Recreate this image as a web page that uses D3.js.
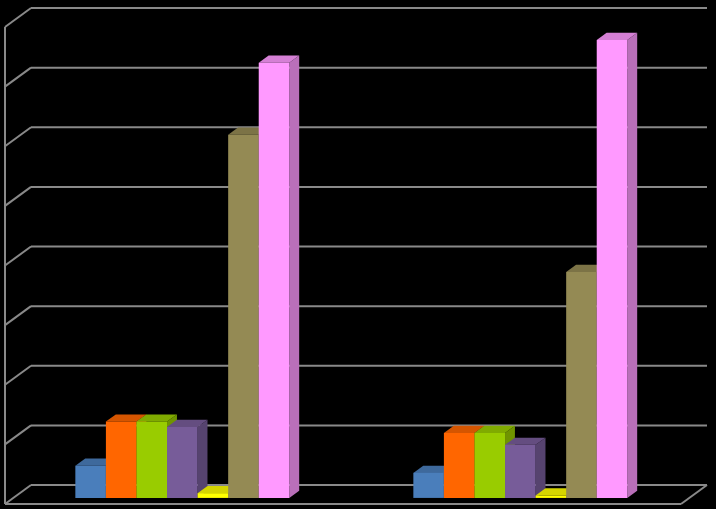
<!DOCTYPE html>
<html>
<head>
<meta charset="utf-8">
<script src="https://cdn.jsdelivr.net/npm/d3@7"></script>
<style>
  html, body { margin: 0; padding: 0; background: #000; }
  svg { display: block; }
</style>
</head>
<body>
<svg id="chart" width="716" height="509"></svg>
<script>
// ---- data ----
const categories = ["Group 1", "Group 2"];
const seriesNames = ["S1", "S2", "S3", "S4", "S5", "S6", "S7"];
const seriesGroup1 = [5.4, 12.8, 12.8, 11.9, 0.8, 60.9, 73.0];
const seriesGroup2 = [4.2, 10.9, 10.9, 8.9, 0.4, 37.9, 76.8];
const gridTicks = [0, 10, 20, 30, 40, 50, 60, 70, 80];
const seriesColors = ["#4A7EBB", "#FF6600", "#99CC00", "#775C99", "#FFFF00", "#948A54", "#FF99FF"];

const values = [seriesGroup1, seriesGroup2];

// ---- geometry ----
const W = 716, H = 509;
const frontLeft = 5, frontRight = 681;
const depthDX = 26, depthDY = 19;      // oblique depth offset (back wall relative to front)
const backBase = 485, backTop = 8;     // back wall baseline/top
const barD0 = 0.32, barD1 = 0.70;      // bar depth span (fraction of floor depth)

const svg = d3.select("#chart");
svg.append("rect").attr("width", W).attr("height", H).attr("fill", "#000");

const y = d3.scaleLinear().domain([0, 80]).range([backBase, backTop]);

const x0 = d3.scaleBand().domain(categories)
  .range([frontLeft, frontRight])
  .paddingInner(0.367).paddingOuter(0.1835);
const x1 = d3.scaleBand().domain(seriesNames).range([0, x0.bandwidth()]);

// project (front-plane x, value, depth d) to screen
function P(xf, v, d) {
  return [xf + depthDX * d, y(v) + depthDY * (1 - d)];
}

const gridColor = "#898989";
const grid = svg.append("g").attr("stroke", gridColor).attr("stroke-width", 2).attr("fill", "none");

// back wall gridlines
grid.selectAll("line.back").data(gridTicks).join("line")
  .attr("class", "back")
  .attr("x1", frontLeft + depthDX).attr("x2", frontRight + depthDX)
  .attr("y1", d => y(d)).attr("y2", d => y(d));

// left wall diagonals
grid.selectAll("line.side").data(gridTicks).join("line")
  .attr("class", "side")
  .attr("x1", frontLeft + depthDX).attr("y1", d => y(d))
  .attr("x2", frontLeft).attr("y2", d => y(d) + depthDY);

// left wall vertical edge
grid.append("line")
  .attr("x1", frontLeft).attr("x2", frontLeft)
  .attr("y1", y(80) + depthDY).attr("y2", y(0) + depthDY);

// ---- bars ----
const bars = svg.append("g");
function shade(c, k) { return d3.color(c).darker(k).formatHex(); }

categories.forEach((cat, ci) => {
  seriesNames.forEach((s, si) => {
    const v = values[ci][si];
    const xl = x0(cat) + x1(s);
    const xr = xl + x1.bandwidth();
    const col = seriesColors[si];
    const g = bars.append("g");
    const pts = a => a.map(p => p.join(",")).join(" ");
    // front face
    const f = [P(xl, 0, barD0), P(xr, 0, barD0), P(xr, v, barD0), P(xl, v, barD0)];
    // right side face
    const sd = [P(xr, 0, barD0), P(xr, 0, barD1), P(xr, v, barD1), P(xr, v, barD0)];
    // top face
    const t = [P(xl, v, barD0), P(xr, v, barD0), P(xr, v, barD1), P(xl, v, barD1)];
    g.append("polygon").attr("points", pts(sd)).attr("fill", shade(col, 0.9));
    g.append("polygon").attr("points", pts(t)).attr("fill", shade(col, 0.5));
    g.append("polygon").attr("points", pts(f)).attr("fill", col);
  });
});

// floor front edge and right edge (in front of bars)
const fg = svg.append("g").attr("stroke", gridColor).attr("stroke-width", 2).attr("fill", "none");
fg.append("line")
  .attr("x1", frontLeft).attr("x2", frontRight)
  .attr("y1", y(0) + depthDY).attr("y2", y(0) + depthDY);
fg.append("line")
  .attr("x1", frontRight + depthDX).attr("y1", y(0))
  .attr("x2", frontRight).attr("y2", y(0) + depthDY);
</script>
</body>
</html>
